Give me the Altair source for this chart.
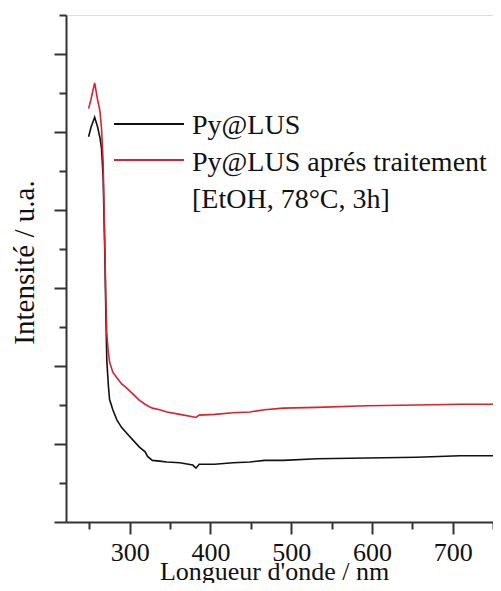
import altair as alt
import pandas as pd

# Wavelength (nm)
wavelength = [249, 252, 256.5, 260, 263, 265, 267, 269, 270.3, 271.5, 273.5, 275, 279, 284,
              290, 296, 304, 312, 319, 322, 328, 337, 346, 362, 378, 382, 386, 405, 428,
              449, 467, 490, 532, 594, 656, 709, 760]
# Py@LUS (black)
py_lus = [4.94, 5.06, 5.19, 5.07, 4.93, 4.79, 4.42, 3.49, 2.72, 2.08, 1.75, 1.57, 1.44, 1.31,
          1.21, 1.14, 1.05, 0.96, 0.90, 0.84, 0.79, 0.78, 0.77, 0.76, 0.73, 0.69, 0.74, 0.74,
          0.76, 0.77, 0.79, 0.79, 0.81, 0.82, 0.83, 0.85, 0.85]
# Py@LUS après traitement (red)
py_lus_treated = [5.30, 5.42, 5.63, 5.42, 5.27, 5.05, 4.62, 3.62, 2.90, 2.42, 2.17, 2.05, 1.92,
                  1.85, 1.77, 1.72, 1.64, 1.56, 1.51, 1.49, 1.46, 1.44, 1.41, 1.38, 1.35, 1.34,
                  1.37, 1.38, 1.40, 1.41, 1.44, 1.46, 1.47, 1.49, 1.50, 1.51, 1.51]

x_ticks = [250, 300, 350, 400, 450, 500, 550, 600, 650, 700, 750]
y_ticks = [0, 0.5, 1, 1.5, 2, 2.5, 3, 3.5, 4, 4.5, 5, 5.5, 6, 6.5]

legend_labels = ["Py@LUS", "Py@LUS aprés traitement", "[EtOH, 78°C, 3h]"]

FONT = "Liberation Serif"
AX = "#333333"
RED = "#d8232f"

df = pd.DataFrame({
    "wl": wavelength * 2,
    "val": py_lus + py_lus_treated,
    "series": [legend_labels[0]] * len(wavelength) + [legend_labels[1]] * len(wavelength),
})

xscale = alt.Scale(domain=[221, 750], nice=False, zero=False)
yscale = alt.Scale(domain=[0, 6.5], nice=False, zero=False)

xaxis = alt.Axis(
    values=x_ticks, grid=False, domainColor=AX, domainWidth=2, tickColor=AX, tickWidth=2,
    tickSize={"condition": {"test": "datum.value % 100 === 0", "value": 12}, "value": 7},
    labelExpr="datum.value % 100 === 0 ? datum.label : ''",
    labelFont=FONT, labelFontSize=26, labelColor="#111111", labelBaseline="alphabetic",
    labelPadding=26, labelFlush=False, labelOverlap=False,
    title="Longueur d'onde / nm", titleFont=FONT, titleFontSize=26, titleFontWeight="normal",
    titleColor="#111111", titleX=208, titleY=57, titleBaseline="alphabetic", titleAlign="center",
)
yaxis = alt.Axis(
    values=y_ticks, grid=False, domainColor=AX, domainWidth=2, tickColor=AX, tickWidth=2,
    tickSize={"condition": {"test": "datum.value % 1 === 0", "value": 12}, "value": 7},
    labels=False,
    title="Intensité / u.a.", titleFont=FONT, titleFontSize=29, titleFontWeight="normal",
    titleColor="#111111", titleAngle=270, titleX=-33, titleY=247, titleBaseline="alphabetic",
    titleAlign="center",
)

lines = alt.Chart(df).mark_line(strokeWidth=1.6, clip=True).encode(
    x=alt.X("wl:Q", scale=xscale, axis=xaxis),
    y=alt.Y("val:Q", scale=yscale, axis=yaxis),
    color=alt.Color("series:N", scale=alt.Scale(domain=legend_labels[:2], range=["#111111", RED]),
                    legend=None),
)

def leg_rule(color, y):
    return alt.Chart(pd.DataFrame({"k": [0]})).mark_rule(color=color, strokeWidth=2).encode(
        x=alt.value(48), x2=alt.value(118), y=alt.value(y))

def leg_text(label, y):
    return alt.Chart(pd.DataFrame({"t": [label]})).mark_text(
        font=FONT, fontSize=28, align="left", baseline="alphabetic", color="#111111"
    ).encode(x=alt.value(126), y=alt.value(y), text="t:N")

chart = alt.layer(
    lines,
    leg_rule("#111111", 109), leg_rule(RED, 145),
    leg_text(legend_labels[0], 119), leg_text(legend_labels[1], 156), leg_text(legend_labels[2], 193),
).properties(
    width=427, height=507,
    autosize=alt.AutoSizeParams(type="none"),
    padding={"left": 58, "top": 7, "right": 0, "bottom": 61},
).configure_view(stroke=None).configure(background="white")

chart.save("out.html", embed_options={"renderer": "svg", "actions": False})
